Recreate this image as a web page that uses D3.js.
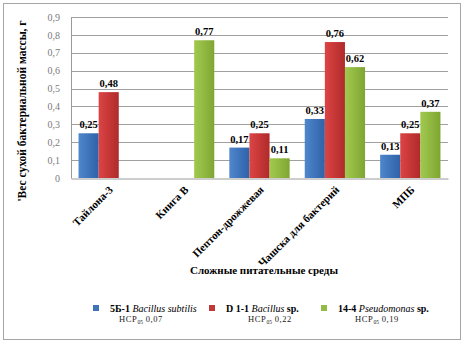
<!DOCTYPE html>
<html>
<head>
<meta charset="utf-8">
<script src="https://cdn.jsdelivr.net/npm/d3@7"></script>
<style>
  body { margin: 0; background: #fff; }
  svg { display: block; }
  svg text { font-family: "Times New Roman", "Liberation Serif", "DejaVu Serif", serif !important; }
</style>
</head>
<body>
<div id="chart"></div>
<script>
// данные
const categories = ["Тайлона-3", "Книга В", "Пептон-дрожжевая", "Чашска для бактерий", "МПБ"];
const subtilis = [0.25, null, 0.17, 0.33, 0.13];
const bacillusSp = [0.48, null, 0.25, 0.76, 0.25];
const pseudomonas = [null, 0.77, 0.11, 0.62, 0.37];
const yTicks = [0, 0.1, 0.2, 0.3, 0.4, 0.5, 0.6, 0.7, 0.8, 0.9];
const seriesNames = [
  { code: "5Б-1 ", latin: "Bacillus subtilis", tail: "", hsr: "0,07" },
  { code: "D 1-1 ", latin: "Bacillus", tail: " sp.", hsr: "0,22" },
  { code: "14-4 ", latin: "Pseudomonas", tail: " sp.", hsr: "0,19" }
];
const seriesValues = [subtilis, bacillusSp, pseudomonas];
const colors = [["#4f86cc", "#2f62a8"], ["#dc4444", "#b02a2a"], ["#a2c94e", "#7fa632"]];
const legendSwatch = ["#3e73b8", "#c0393a", "#93bb45"];

const W = 466, H = 346;
const margin = { top: 17, right: 18, bottom: 168, left: 71 };

const svg = d3.select("#chart").append("svg")
  .attr("width", W).attr("height", H);

// рамка
svg.append("rect").attr("x", 3.5).attr("y", 3.5).attr("width", 457).attr("height", 336)
  .attr("fill", "#fff").attr("stroke", "#a6a6a6");

const defs = svg.append("defs");
colors.forEach((c, i) => {
  const g = defs.append("linearGradient").attr("id", "g" + i)
    .attr("x1", 0).attr("x2", 1).attr("y1", 0).attr("y2", 0);
  g.append("stop").attr("offset", "0%").attr("stop-color", c[0]);
  g.append("stop").attr("offset", "100%").attr("stop-color", c[1]);
});

const x = d3.scaleBand().domain(categories)
  .range([margin.left, W - margin.right]).paddingInner(0.2).paddingOuter(0.1);
const xs = d3.scaleBand().domain(d3.range(3)).range([0, x.bandwidth()]);
const y = d3.scaleLinear().domain([0, 0.9]).range([H - margin.bottom, margin.top]);

const fmt = v => d3.format(".2f")(v).replace(".", ",");

// сетка
svg.append("g").selectAll("line").data(yTicks.slice(1)).join("line")
  .attr("x1", margin.left).attr("x2", W - margin.right)
  .attr("y1", d => Math.round(y(d)) + 0.5).attr("y2", d => Math.round(y(d)) + 0.5)
  .attr("stroke", "#a0a0a0");

// ось Y
const yAxis = svg.append("g").attr("transform", `translate(${margin.left},0)`)
  .call(d3.axisLeft(y).tickValues(yTicks).tickSize(0).tickPadding(11)
    .tickFormat(d => d === 0 ? "0" : d3.format(".1f")(d).replace(".", ",")));
yAxis.select(".domain").attr("stroke", "#9a9a9a");
yAxis.selectAll("text").attr("fill", "#7a7a7a").style("font-size", "10px");

// ось X
const xAxis = svg.append("g").attr("transform", `translate(0,${Math.round(y(0)) + 0.5})`)
  .call(d3.axisBottom(x).tickSize(0).tickPadding(0));
xAxis.select(".domain").attr("stroke", "#9a9a9a");
xAxis.selectAll("text")
  .attr("transform", "translate(5,12) rotate(-45)")
  .attr("text-anchor", "end").attr("dy", 0)
  .attr("fill", "#000").style("font-size", "11px").style("font-weight", "bold");

// столбцы
seriesValues.forEach((vals, s) => {
  const pts = categories.map((c, i) => ({ c, v: vals[i] })).filter(d => d.v != null);
  svg.append("g").selectAll("rect").data(pts).join("rect")
    .attr("x", d => x(d.c) + xs(s))
    .attr("width", xs.bandwidth())
    .attr("y", d => y(d.v))
    .attr("height", d => y(0) - y(d.v))
    .attr("fill", `url(#g${s})`);
  svg.append("g").selectAll("text").data(pts).join("text")
    .attr("x", d => x(d.c) + xs(s) + xs.bandwidth() / 2)
    .attr("y", d => y(d.v) - 5)
    .attr("text-anchor", "middle")
    .style("font-size", "10.5px").style("font-weight", "bold")
    .text(d => fmt(d.v));
});

// подписи осей
svg.append("text")
  .attr("transform", `translate(26,111) rotate(-90)`)
  .attr("text-anchor", "middle")
  .style("font-size", "11.5px").style("font-weight", "bold")
  .text("'Вес сухой бактериальной массы, г");

svg.append("text").attr("x", 264).attr("y", 274)
  .attr("text-anchor", "middle")
  .style("font-size", "11px").style("font-weight", "bold")
  .text("Сложные питательные среды");

// легенда
const legendX = [93, 209, 321];
const hsrX = [141, 270, 377];
seriesNames.forEach((s, i) => {
  svg.append("rect").attr("x", legendX[i]).attr("y", 305).attr("width", 6).attr("height", 6)
    .attr("fill", legendSwatch[i]);
  const t = svg.append("text").attr("x", legendX[i] + 17).attr("y", 312)
    .style("font-size", "10px");
  t.append("tspan").style("font-weight", "bold").text(s.code);
  t.append("tspan").style("font-style", "italic").text(s.latin);
  t.append("tspan").style("font-weight", "bold").text(s.tail);
  const h = svg.append("text").attr("x", hsrX[i]).attr("y", 322)
    .attr("text-anchor", "middle").style("font-size", "8.5px")
    .style("letter-spacing", "0.6px").attr("fill", "#222");
  h.append("tspan").text("НСР");
  h.append("tspan").attr("dy", 2).style("font-size", "5.5px").style("letter-spacing", "0px").text("05");
  h.append("tspan").attr("dy", -2).text(" " + s.hsr);
});
</script>
</body>
</html>
